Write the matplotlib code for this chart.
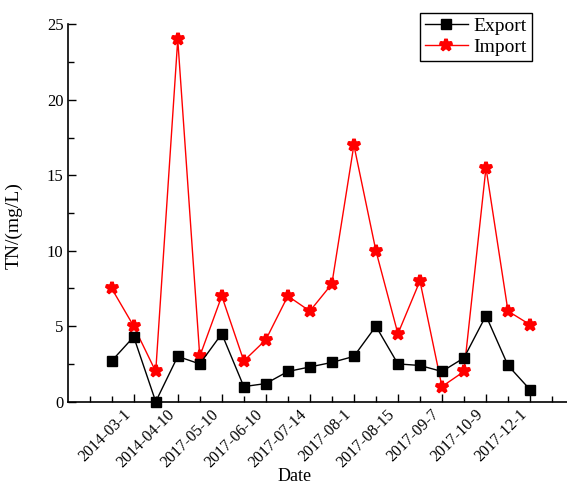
import matplotlib
matplotlib.use("Agg")
import matplotlib.pyplot as plt
import numpy as np

# sampling order (1..20); only every second date is labelled
positions = np.arange(1, 21)
label_positions = [2, 4, 6, 8, 10, 12, 14, 16, 18, 20]
date_labels = ["2014-03-1", "2014-04-10", "2017-05-10", "2017-06-10", "2017-07-14",
               "2017-08-1", "2017-08-15", "2017-09-7", "2017-10-9", "2017-12-1"]

export_tn = [2.7, 4.3, 0.0, 3.0, 2.5, 4.5, 1.0, 1.2, 2.0, 2.3,
             2.6, 3.0, 5.0, 2.5, 2.4, 2.0, 2.9, 5.7, 2.4, 0.8]
import_tn = [7.5, 5.0, 2.0, 24.0, 3.0, 7.0, 2.7, 4.1, 7.0, 6.0,
             7.8, 17.0, 10.0, 4.5, 8.0, 1.0, 2.0, 15.5, 6.0, 5.1]

plt.rcParams['font.family'] = ['Liberation Serif', 'DejaVu Serif']

fig = plt.figure(figsize=(5.67, 4.86), dpi=100)
ax = fig.add_axes([0.1205, 0.1735, 0.8795, 0.7765])

ax.plot(positions, export_tn, color="black", marker="s", markersize=7,
        linewidth=1, label="Export", clip_on=False, zorder=3)
ax.plot(positions, import_tn, color="red", marker="*", markersize=9,
        markeredgewidth=2.6, linewidth=1, label="Import", clip_on=False, zorder=2)

ax.set_xlim(-0.97, 21.68)
ax.set_ylim(0, 25)

ax.set_xticks(label_positions)
ax.set_xticklabels(date_labels, rotation=45, ha="right", fontsize=11.5)
ax.set_xticks(np.arange(0, 22), minor=True)
ax.set_yticks(np.arange(0, 26, 5))
ax.set_yticks(np.arange(0, 25, 2.5), minor=True)
ax.tick_params(axis="y", labelsize=12)
ax.tick_params(which="major", direction="in", length=6, width=1)
ax.tick_params(which="minor", direction="in", length=4, width=1)

for side in ["top", "right"]:
    ax.spines[side].set_visible(False)
for side in ["left", "bottom"]:
    ax.spines[side].set_linewidth(1.2)

ax.set_ylabel("TN/(mg/L)", fontsize=14)
ax.yaxis.set_label_coords(-0.091, 0.468)
fig.text(295 / 567, 0.002, "Date", fontsize=13, ha="center", va="bottom")

leg = fig.legend(loc="upper right", bbox_to_anchor=(0.9377, 0.9739), fontsize=14,
                 frameon=True, fancybox=False, edgecolor="black", framealpha=1,
                 handlelength=2.2, labelspacing=0.15, borderpad=0.25,
                 handletextpad=0.3, borderaxespad=0)
leg.get_frame().set_linewidth(1)

fig.savefig("out.png", dpi=100)
